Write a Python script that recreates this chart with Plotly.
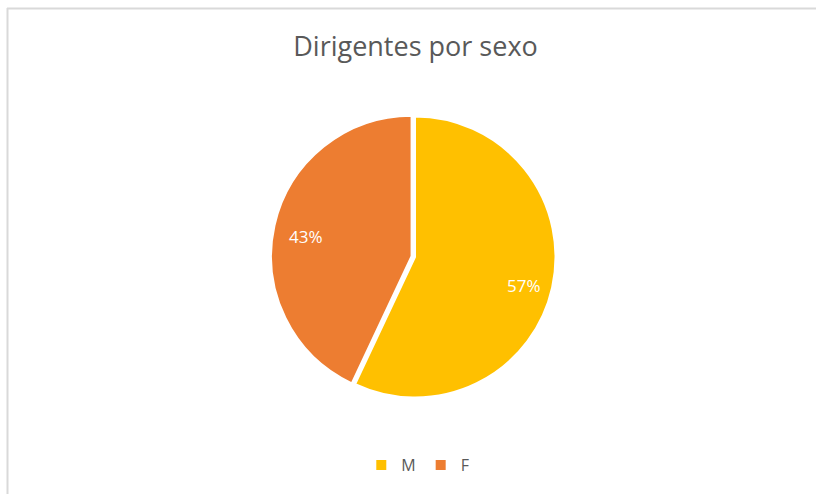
import math
import plotly.graph_objects as go

# data
sexo = ["M", "F"]
porcentaje = [57, 43]
colores = ["#FFC000", "#ED7D31"]

W, H = 816, 494

# pie placement (pixels)
cx, cy, half = 415, 257, 144
dom_x = [(cx - half) / W, (cx + half) / W]
dom_y = [(H - cy - half) / H, (H - cy + half) / H]

fig = go.Figure()

fig.add_trace(go.Pie(
    labels=sexo,
    values=porcentaje,
    sort=False,
    direction="clockwise",
    rotation=0,
    pull=[0, 0.025],
    marker=dict(colors=colores, line=dict(color="white", width=2)),
    textinfo="none",
    hoverinfo="label+percent",
    domain=dict(x=dom_x, y=dom_y),
))

# percentage labels placed Excel-style, on each slice's mid-angle
total = sum(porcentaje)
r_lab = 112
acum = 0
for v in porcentaje:
    ang = math.radians((acum + v / 2) / total * 360)
    acum += v
    fig.add_annotation(
        x=(cx + r_lab * math.sin(ang)) / W,
        y=(H - (cy - r_lab * math.cos(ang) + 4)) / H,
        xref="paper", yref="paper",
        text=f"{round(v / total * 100)}%",
        showarrow=False,
        font=dict(family="Open Sans", size=17, color="white"),
    )

fig.update_layout(
    width=W, height=H,
    margin=dict(l=0, r=0, t=0, b=0),
    paper_bgcolor="white",
    title=dict(
        text="Dirigentes por sexo",
        x=415.5 / W, xanchor="center",
        y=1 - 47 / H, yanchor="middle",
        font=dict(family="Open Sans", size=27, color="#595959"),
    ),
    showlegend=True,
    legend=dict(
        orientation="h",
        x=0.512, xanchor="center",
        y=1 - 465 / H, yanchor="middle",
        font=dict(family="Open Sans", size=16, color="#595959"),
        itemwidth=30,
    ),
    shapes=[
        # chart area border (top and left visible)
        dict(type="line", xref="paper", yref="paper",
             x0=7 / W, x1=1, y0=1 - 8.5 / H, y1=1 - 8.5 / H,
             line=dict(color="#D9D9D9", width=2)),
        dict(type="line", xref="paper", yref="paper",
             x0=7.5 / W, x1=7.5 / W, y0=0, y1=1 - 8 / H,
             line=dict(color="#D9D9D9", width=2)),
    ],
)

fig.write_html("out.html", config={"displayModeBar": False},
               post_script="document.body.style.margin='0';")
